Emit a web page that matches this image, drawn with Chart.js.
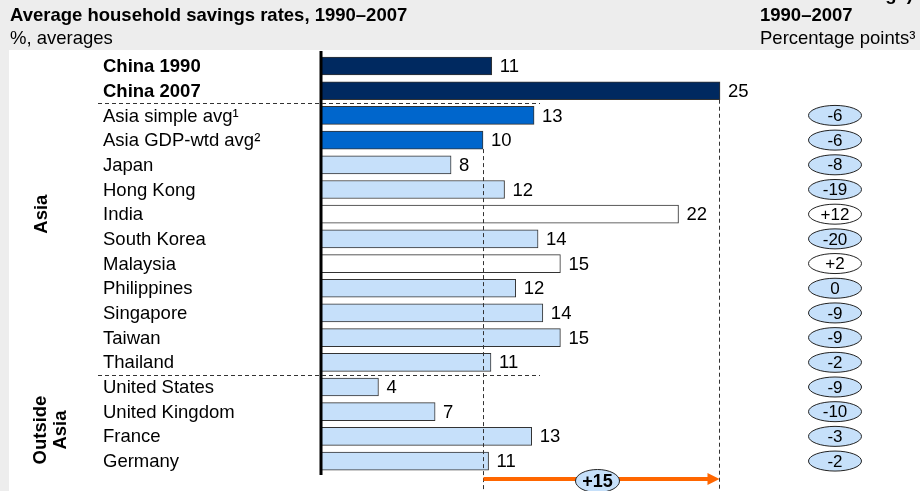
<!DOCTYPE html>
<html lang="en">
<head>
<meta charset="UTF-8">
<title>Average household savings rates</title>
<script src="https://cdn.jsdelivr.net/npm/chart.js@4.4.0/dist/chart.umd.min.js"></script>
<style>
  body { margin: 0; background: #fff; }
  canvas { display: block; }
</style>
</head>
<body>
<canvas id="chart" width="920" height="491"></canvas>
<script>
// data
const countries = ['China 1990', 'China 2007', 'Asia simple avg¹', 'Asia GDP-wtd avg²', 'Japan', 'Hong Kong',
  'India', 'South Korea', 'Malaysia', 'Philippines', 'Singapore', 'Taiwan', 'Thailand',
  'United States', 'United Kingdom', 'France', 'Germany'];
const savings = [10.7, 25, 13.35, 10.15, 8.15, 11.5, 22.4, 13.6, 15.0, 12.2, 13.9, 15.0, 10.65, 3.6, 7.15, 13.2, 10.5];
const savingsLabels = ['11', '25', '13', '10', '8', '12', '22', '14', '15', '12', '14', '15', '11', '4', '7', '13', '11'];
const changes = [null, null, -6, -6, -8, -19, 12, -20, 2, 0, -9, -9, -2, -9, -10, -3, -2];
const chinaChange = '+15';
const groups = [['Asia'], ['Outside', 'Asia']];

const FONT = '"Liberation Sans", Arial, sans-serif';
const NAVY = '#002960', BLUE = '#0066cc', LIGHT = '#c6e0fa';

const barColors = savings.map((v, i) => {
  if (i < 2) return NAVY;
  if (i < 4) return BLUE;
  return changes[i] > 0 ? '#ffffff' : LIGHT;
});

const x0 = 321, x25 = 720;
const xMax = 25 * (920 - x0) / (x25 - x0);

function fmtChange(v) { return v > 0 ? '+' + v : String(v); }

function ellipse(ctx, cx, cy, rx, ry, fill) {
  ctx.beginPath();
  ctx.ellipse(cx, cy, rx, ry, 0, 0, Math.PI * 2);
  ctx.fillStyle = fill;
  ctx.fill();
  ctx.lineWidth = 1;
  ctx.strokeStyle = '#222';
  ctx.stroke();
}

const decor = {
  id: 'decor',
  beforeDraw(chart) {
    const ctx = chart.ctx;
    ctx.save();
    ctx.fillStyle = '#ededed';
    ctx.fillRect(0, 0, 920, 50);
    ctx.fillRect(0, 0, 9, 491);
    ctx.fillStyle = '#000';
    ctx.textBaseline = 'alphabetic';
    ctx.font = 'bold 18.5px ' + FONT;
    ctx.fillText('Average household savings rates, 1990–2007', 10, 21);
    ctx.fillText('1990–2007', 760, 21);
    ctx.textAlign = 'right';
    ctx.fillText('Change)', 913, 0);
    ctx.textAlign = 'left';
    ctx.font = '18.5px ' + FONT;
    ctx.fillText('%, averages', 10, 44);
    ctx.fillText('Percentage points³', 760, 44);
    ctx.restore();
  },
  afterDatasetsDraw(chart) {
    const ctx = chart.ctx;
    const xs = chart.scales.x, ys = chart.scales.y;
    ctx.save();

    // axis line
    ctx.strokeStyle = '#000';
    ctx.lineWidth = 3;
    ctx.beginPath();
    ctx.moveTo(xs.getPixelForValue(0), 51);
    ctx.lineTo(xs.getPixelForValue(0), 475);
    ctx.stroke();

    // row labels and values
    ctx.textBaseline = 'middle';
    countries.forEach((name, i) => {
      const y = ys.getPixelForValue(i) + 1;
      ctx.fillStyle = '#000';
      ctx.textAlign = 'left';
      ctx.font = (i < 2 ? 'bold ' : '') + '18.5px ' + FONT;
      ctx.fillText(name, 103, y);
      ctx.font = '18.5px ' + FONT;
      ctx.fillText(savingsLabels[i], xs.getPixelForValue(savings[i]) + 8, y);
    });

    // dashed separators
    ctx.setLineDash([4, 3]);
    ctx.lineWidth = 1;
    ctx.strokeStyle = '#333';
    [1.5, 12.5].forEach(v => {
      const y = Math.round(ys.getPixelForValue(v)) + 0.5;
      ctx.beginPath();
      ctx.moveTo(98, y);
      ctx.lineTo(540, y);
      ctx.stroke();
    });
    const arrowY = 479;
    const xa = Math.round(xs.getPixelForValue(savings[3])) + 0.5;
    const xb = Math.round(xs.getPixelForValue(savings[1])) - 0.5;
    ctx.beginPath();
    ctx.moveTo(xa, ys.getPixelForValue(3) + 9);
    ctx.lineTo(xa, 491);
    ctx.moveTo(xb, ys.getPixelForValue(1) + 9);
    ctx.lineTo(xb, 491);
    ctx.stroke();
    ctx.setLineDash([]);

    // orange arrow
    ctx.strokeStyle = '#ff6600';
    ctx.fillStyle = '#ff6600';
    ctx.lineWidth = 4;
    ctx.beginPath();
    ctx.moveTo(xa, arrowY);
    ctx.lineTo(xb - 10, arrowY);
    ctx.stroke();
    ctx.beginPath();
    ctx.moveTo(xb, arrowY);
    ctx.lineTo(xb - 12, arrowY - 6);
    ctx.lineTo(xb - 12, arrowY + 6);
    ctx.closePath();
    ctx.fill();
    const cx = (xa + xb) / 2 - 4;
    ellipse(ctx, cx, arrowY + 2, 22, 11.5, LIGHT);
    ctx.fillStyle = '#000';
    ctx.textAlign = 'center';
    ctx.font = 'bold 18px ' + FONT;
    ctx.fillText(chinaChange, cx, arrowY + 3);

    // change bubbles
    ctx.font = '17px ' + FONT;
    changes.forEach((c, i) => {
      if (c === null) return;
      const y = ys.getPixelForValue(i);
      ellipse(ctx, 835, y, 26.5, 10, c > 0 ? '#ffffff' : LIGHT);
      ctx.fillStyle = '#000';
      ctx.fillText(fmtChange(c), 835, y + 1);
    });

    // group labels
    ctx.font = 'bold 18.5px ' + FONT;
    const g1 = (ys.getPixelForValue(0) + ys.getPixelForValue(12)) / 2;
    const g2 = (ys.getPixelForValue(13) + ys.getPixelForValue(16)) / 2 + 6;
    [[groups[0], 42, g1], [groups[1], 51, g2]].forEach(([lines, x, y]) => {
      ctx.save();
      ctx.translate(x, y);
      ctx.rotate(-Math.PI / 2);
      lines.forEach((t, k) => {
        ctx.fillText(t, 0, (k - (lines.length - 1) / 2) * 20);
      });
      ctx.restore();
    });
    ctx.restore();
  }
};

new Chart(document.getElementById('chart').getContext('2d'), {
  type: 'bar',
  data: {
    labels: countries,
    datasets: [{
      data: savings,
      backgroundColor: barColors,
      borderColor: '#333',
      borderWidth: 1,
      borderSkipped: 'start',
      barThickness: 18
    }]
  },
  options: {
    indexAxis: 'y',
    responsive: false,
    animation: false,
    layout: { padding: { left: x0, right: 0, top: 53.7, bottom: 17.6 } },
    scales: {
      x: { display: false, min: 0, max: xMax },
      y: { display: false }
    },
    plugins: { legend: { display: false }, tooltip: { enabled: false } }
  },
  plugins: [decor]
});
</script>
</body>
</html>
